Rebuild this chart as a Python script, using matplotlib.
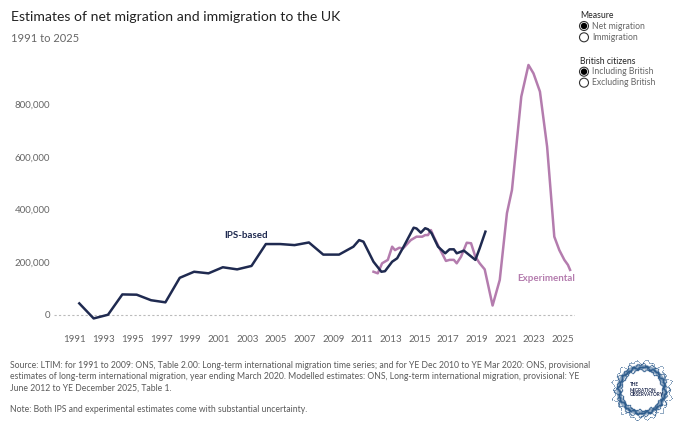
import numpy as np
import matplotlib
matplotlib.use("Agg")
import matplotlib.pyplot as plt
from matplotlib.patches import Circle

# IPS-based net migration (annual to 2009, then rolling)
ips_years = [1991.3, 1992.3, 1993.3, 1994.3, 1995.3, 1996.3, 1997.3, 1998.3, 1999.3,
             2000.3, 2001.3, 2002.3, 2003.3, 2004.3, 2005.3, 2006.3, 2007.3, 2008.3,
             2009.4, 2010.4, 2010.8, 2011.1, 2011.8, 2012.35, 2012.6, 2013.1, 2013.45,
             2013.9, 2014.6, 2014.8, 2015.1, 2015.4, 2015.6, 2015.85, 2016.3, 2016.8,
             2017.1, 2017.4, 2017.6, 2018.1, 2018.9, 2019.2, 2019.6]
ips_values = [44000, -13000, 1000, 78000, 77000, 56000, 48000, 141000, 164000,
              158000, 181000, 173000, 186000, 269000, 269000, 265000, 275000, 229000,
              229000, 259000, 284000, 278000, 202000, 164000, 166000, 202000, 215000,
              259000, 331000, 328000, 312000, 329000, 325000, 310000, 259000, 234000,
              249000, 249000, 234000, 244000, 209000, 253000, 316000]

# experimental (modelled) estimates
exp_years = [2011.8, 2012.1, 2012.4, 2012.8, 2013.1, 2013.3, 2013.6, 2013.85, 2014.4,
             2014.8, 2015.2, 2015.4, 2015.6, 2015.8, 2016.0, 2016.4, 2016.85, 2017.1,
             2017.4, 2017.6, 2017.9, 2018.3, 2018.6, 2018.9, 2019.2, 2019.55, 2020.1,
             2020.6, 2021.1, 2021.45, 2022.1, 2022.6, 2022.95, 2023.4, 2023.9, 2024.4,
             2024.75, 2025.1, 2025.35, 2025.5]
exp_values = [164000, 158000, 196000, 209000, 259000, 246000, 255000, 252000, 284000,
              297000, 297000, 303000, 303000, 322000, 297000, 253000, 205000, 209000,
              209000, 196000, 221000, 274000, 272000, 221000, 196000, 173000, 36000,
              133000, 386000, 474000, 828000, 948000, 916000, 847000, 638000, 297000,
              246000, 209000, 190000, 171000]

x_ticks = list(range(1991, 2026, 2))
y_ticks = [0, 200000, 400000, 600000, 800000]

navy = "#1f2a50"
pink = "#b47cae"
grey = "#666666"

plt.rcParams['font.family'] = ['Lato', 'DejaVu Sans']

W, H = 680, 428
fig = plt.figure(figsize=(6.8, 4.28), dpi=100)


def box(x0, y0, x1, y1):
    return [x0 / W, 1 - y1 / H, (x1 - x0) / W, (y1 - y0) / H]


ax = fig.add_axes(box(54, 55, 575, 325))
ax.set_xlim(1989.537, 2025.843)
ax.set_ylim(-37915, 985782)
ax.axhline(0, color="#bbbbbb", lw=0.8, ls=(0, (2, 2)), zorder=1)
ax.plot(ips_years, ips_values, color=navy, lw=1.8, zorder=3)
ax.plot(exp_years, exp_values, color=pink, lw=1.8, zorder=2)

ax.set_xticks(x_ticks)
ax.set_yticks(y_ticks)
ax.set_yticklabels([f"{v:,}" for v in y_ticks])
ax.tick_params(axis="x", length=0, pad=7, labelsize=7, labelcolor=grey)
ax.tick_params(axis="y", length=0, pad=3, labelsize=7, labelcolor=grey)
for s in ax.spines.values():
    s.set_visible(False)

ax.text(2002.92, 300700, "IPS-based", color=navy, fontsize=7, fontweight="bold",
        ha="center", va="center")
ax.text(2023.82, 140000, "Experimental", color=pink, fontsize=7, fontweight="bold",
        ha="center", va="center")

# overlay in pixel coordinates for titles, legend, notes
ov = fig.add_axes([0, 0, 1, 1])
ov.set_xlim(0, W)
ov.set_ylim(H, 0)
ov.axis("off")

ov.text(11, 17, "Estimates of net migration and immigration to the UK", fontsize=10.1,
        color="#222222", va="center", ha="left")
ov.text(11, 38, "1991 to 2025", fontsize=8, color=grey, va="center", ha="left")

ov.text(580, 15, "Measure", fontsize=6.2, color="#222222", va="center")
ov.text(580, 61.5, "British citizens", fontsize=6.2, color="#222222", va="center")
legend_items = [(26, "Net migration", True), (37.3, "Immigration", False),
                (71.7, "Including British", True), (82.7, "Excluding British", False)]
for yy, lab, on in legend_items:
    ov.add_patch(Circle((584, yy), 4.5, facecolor="white", edgecolor="#333333", lw=0.8))
    if on:
        ov.add_patch(Circle((584, yy), 3.2, facecolor="black", edgecolor="none"))
    ov.text(592.5, yy, lab, fontsize=6.2, color=grey, va="center")

src = ("Source: LTIM: for 1991 to 2009: ONS, Table 2.00: Long-term international migration time series; "
       "and for YE Dec 2010 to YE Mar 2020: ONS, provisional\n"
       "estimates of long-term international migration, year ending March 2020. Modelled estimates: "
       "ONS, Long-term international migration, provisional: YE\n"
       "June 2012 to YE December 2025, Table 1.")
ov.text(10, 361, src, fontsize=6.2, color="#5a5a5a", va="top", ha="left", linespacing=1.33)
ov.text(10, 410, "Note: Both IPS and experimental estimates come with substantial uncertainty.",
        fontsize=6.2, color="#5a5a5a", va="center", ha="left")

# logo: speckled ring
cx, cy = 641.7, 390
ang = np.linspace(0, 2 * np.pi, 240, endpoint=False)
ov.add_patch(Circle((cx, cy), 23, fill=False, edgecolor="#3a6796", lw=3.2, alpha=0.55))
for k, (r0, amp, sz, al) in enumerate([(23, 1.5, 1.6, 0.8), (25.5, 2.5, 1.0, 0.6),
                                        (20.5, 1.2, 1.0, 0.6), (28.5, 3.0, 0.5, 0.4)]):
    rr = r0 + amp * np.sin(17 * ang + k) * np.cos(5 * ang + 2 * k)
    ov.scatter(cx + rr * np.cos(ang + 0.3 * k), cy + rr * np.sin(ang + 0.3 * k), s=sz,
               color="#2c5b8c", alpha=al, linewidths=0)
ov.text(cx - 12, cy, "THE\nMIGRATION\nOBSERVATORY", fontsize=3.3, color="#1f2a50",
        fontweight="bold", va="center", ha="left", linespacing=1.0)

fig.savefig("out.png", dpi=100)
